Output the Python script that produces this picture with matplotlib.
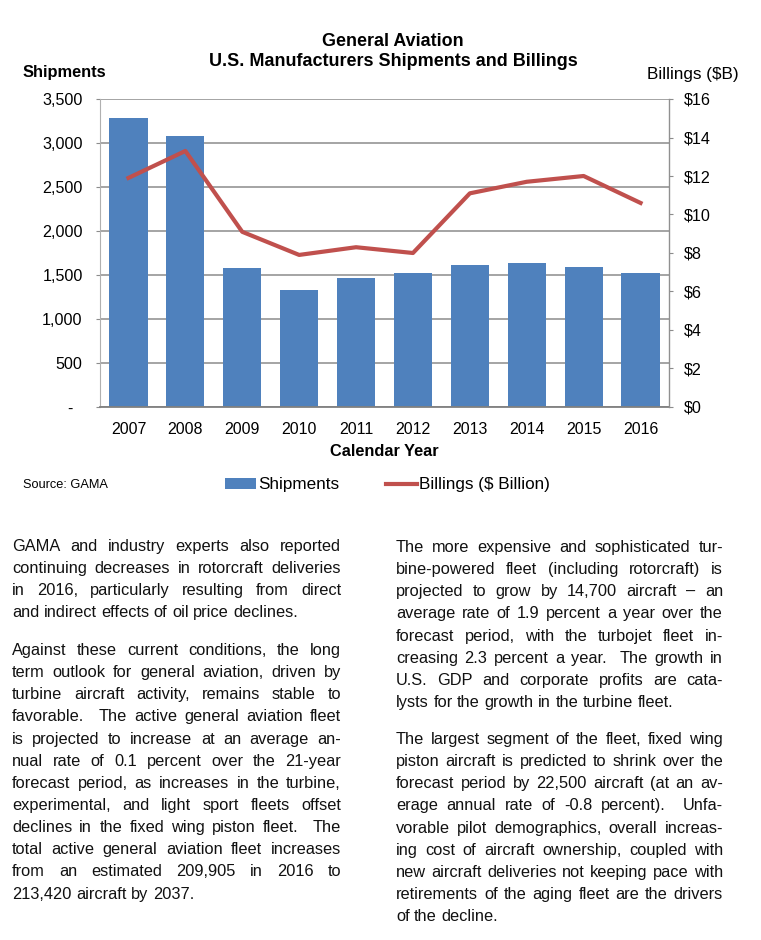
import re
import matplotlib
matplotlib.use('Agg')
import matplotlib.pyplot as plt
from matplotlib.patches import Patch
from matplotlib.lines import Line2D

# ---------------- data ----------------
years = ['2007', '2008', '2009', '2010', '2011', '2012', '2013', '2014', '2015', '2016']
shipments = [3279, 3079, 1585, 1334, 1465, 1518, 1615, 1631, 1592, 1525]
billings = [11.9, 13.3, 9.1, 7.9, 8.3, 8.0, 11.1, 11.7, 12.0, 10.6]
ship_ticks = [0, 500, 1000, 1500, 2000, 2500, 3000, 3500]
ship_tick_labels = ['-  ', '500', '1,000', '1,500', '2,000', '2,500', '3,000', '3,500']
bill_ticks = [0, 2, 4, 6, 8, 10, 12, 14, 16]
bill_tick_labels = ['\\$0', '\\$2', '\\$4', '\\$6', '\\$8', '\\$10', '\\$12', '\\$14', '\\$16']

title_lines = ['General Aviation', 'U.S. Manufacturers Shipments and Billings']
left_label = 'Shipments'
right_label = 'Billings (\\$B)'
x_label = 'Calendar Year'
source_text = 'Source: GAMA'
legend_labels = ['Shipments', 'Billings (\\$ Billion)']

para1 = ["GAMA and industry experts also reported",
         "continuing decreases in rotorcraft deliveries",
         "in 2016, particularly resulting from direct",
         "and indirect effects of oil price declines."]
para2 = ["Against these current conditions, the long",
         "term outlook for general aviation, driven by",
         "turbine aircraft activity, remains stable to",
         "favorable.  The active general aviation fleet",
         "is projected to increase at an average an-",
         "nual rate of 0.1 percent over the 21-year",
         "forecast period, as increases in the turbine,",
         "experimental, and light sport fleets offset",
         "declines in the fixed wing piston fleet.  The",
         "total active general aviation fleet increases",
         "from an estimated 209,905 in 2016 to",
         "213,420 aircraft by 2037."]
para3 = ["The more expensive and sophisticated tur-",
         "bine-powered fleet (including rotorcraft) is",
         "projected to grow by 14,700 aircraft \u2013 an",
         "average rate of 1.9 percent a year over the",
         "forecast period, with the turbojet fleet in-",
         "creasing 2.3 percent a year.  The growth in",
         "U.S. GDP and corporate profits are cata-",
         "lysts for the growth in the turbine fleet."]
para4 = ["The largest segment of the fleet, fixed wing",
         "piston aircraft is predicted to shrink over the",
         "forecast period by 22,500 aircraft (at an av-",
         "erage annual rate of -0.8 percent).  Unfa-",
         "vorable pilot demographics, overall increas-",
         "ing cost of aircraft ownership, coupled with",
         "new aircraft deliveries not keeping pace with",
         "retirements of the aging fleet are the drivers",
         "of the decline."]

# ---------------- styling ----------------
W, H = 761, 940
FONT = 'Liberation Sans'
plt.rcParams['font.family'] = [FONT, 'DejaVu Sans']
BAR_C = '#4F81BD'
LINE_C = '#C0504D'
GRID_C = '#8C8C8C'

fig = plt.figure(figsize=(W / 100, H / 100), dpi=100)


def fx(x):
    return x / W


def fy(y):
    return 1 - y / H


ax_l, ax_r, ax_t, ax_b = 100, 669, 99, 407
ax = fig.add_axes([fx(ax_l), fy(ax_b), (ax_r - ax_l) / W, (ax_b - ax_t) / H])
xs = list(range(len(years)))
ax.bar(xs, shipments, width=0.67, color=BAR_C, zorder=2)
ax.set_xlim(-0.5, len(years) - 0.5)
ax.set_ylim(0, 3500)
ax.set_yticks(ship_ticks)
ax.set_yticklabels(ship_tick_labels)
ax.set_xticks(xs)
ax.set_xticklabels(years)
ax.tick_params(axis='x', length=0, pad=10.5, labelsize=11.5)
ax.tick_params(axis='y', length=3, width=0.8, color=GRID_C, pad=9.5, labelsize=11.6)
ax.yaxis.grid(True, color=GRID_C, linewidth=1.1, zorder=0)
ax.set_axisbelow(True)
for s in ['top', 'right']:
    ax.spines[s].set_visible(False)
ax.spines['left'].set_color('#B0B0B0')
ax.spines['left'].set_linewidth(0.8)
ax.spines['bottom'].set_color('#808080')
ax.spines['bottom'].set_linewidth(1.3)

ax2 = ax.twinx()
ax2.plot(xs, billings, color=LINE_C, linewidth=3.0, solid_joinstyle='round', zorder=3)
ax2.set_ylim(0, 16)
ax2.set_yticks(bill_ticks)
ax2.set_yticklabels(bill_tick_labels)
ax2.tick_params(axis='y', length=3, width=0.8, color=GRID_C, pad=8, labelsize=11.6)
for s in ['top', 'left', 'bottom']:
    ax2.spines[s].set_visible(False)
ax2.spines['right'].set_color('#909090')
ax2.spines['right'].set_linewidth(1.0)

# titles and labels
fig.text(fx(393), fy(41), title_lines[0], ha='center', va='center', fontsize=12.9, fontweight='bold')
fig.text(fx(393), fy(62), title_lines[1], ha='center', va='center', fontsize=13.0, fontweight='bold')
fig.text(fx(23), fy(72), left_label, ha='left', va='center', fontsize=11.8, fontweight='bold')
fig.text(fx(647), fy(74), right_label, ha='left', va='center', fontsize=12.3)
fig.text(fx(384), fy(452), x_label, ha='center', va='center', fontsize=11.8, fontweight='bold')
fig.text(fx(23), fy(485), source_text, ha='left', va='center', fontsize=9.2)

handles = [Patch(facecolor=BAR_C, edgecolor='none'),
           Line2D([0], [0], color=LINE_C, linewidth=3.0)]
fig.legend(handles, legend_labels, loc='center left', bbox_to_anchor=(fx(225), fy(485)),
           ncol=2, frameon=False, fontsize=12.3, handlelength=1.8, handleheight=0.6,
           handletextpad=0.12, columnspacing=2.75, borderpad=0, borderaxespad=0)

# ---------------- justified body text ----------------
FS_BODY = 11.8
renderer = fig.canvas.get_renderer()


def measure(s):
    t = fig.text(0, 0, s, fontsize=FS_BODY)
    w = t.get_window_extent(renderer).width
    t.remove()
    return w


space_w = measure('a a') - measure('aa')
LINE_H = 22.15


def draw_para(lines, x0, width, base0):
    for i, line in enumerate(lines):
        base = base0 + i * LINE_H
        parts = re.split(r'( +)', line)
        words = parts[0::2]
        gaps = [len(g) for g in parts[1::2]]
        widths = [measure(w) for w in words]
        last = (i == len(lines) - 1)
        if gaps and not last:
            total_w = sum(widths)
            extra = (width - total_w - space_w * sum(gaps)) / sum(gaps)
        else:
            extra = 0.0
        x = x0
        for j, w in enumerate(words):
            fig.text(fx(x), fy(base), w, ha='left', va='baseline', fontsize=FS_BODY, color='#111111')
            x += widths[j]
            if j < len(gaps):
                x += gaps[j] * (space_w + extra)


draw_para(para1, 12, 329, 551)
draw_para(para2, 12, 329, 655)
draw_para(para3, 396, 327, 552)
draw_para(para4, 396, 327, 744)

fig.savefig('out.png', dpi=100)
